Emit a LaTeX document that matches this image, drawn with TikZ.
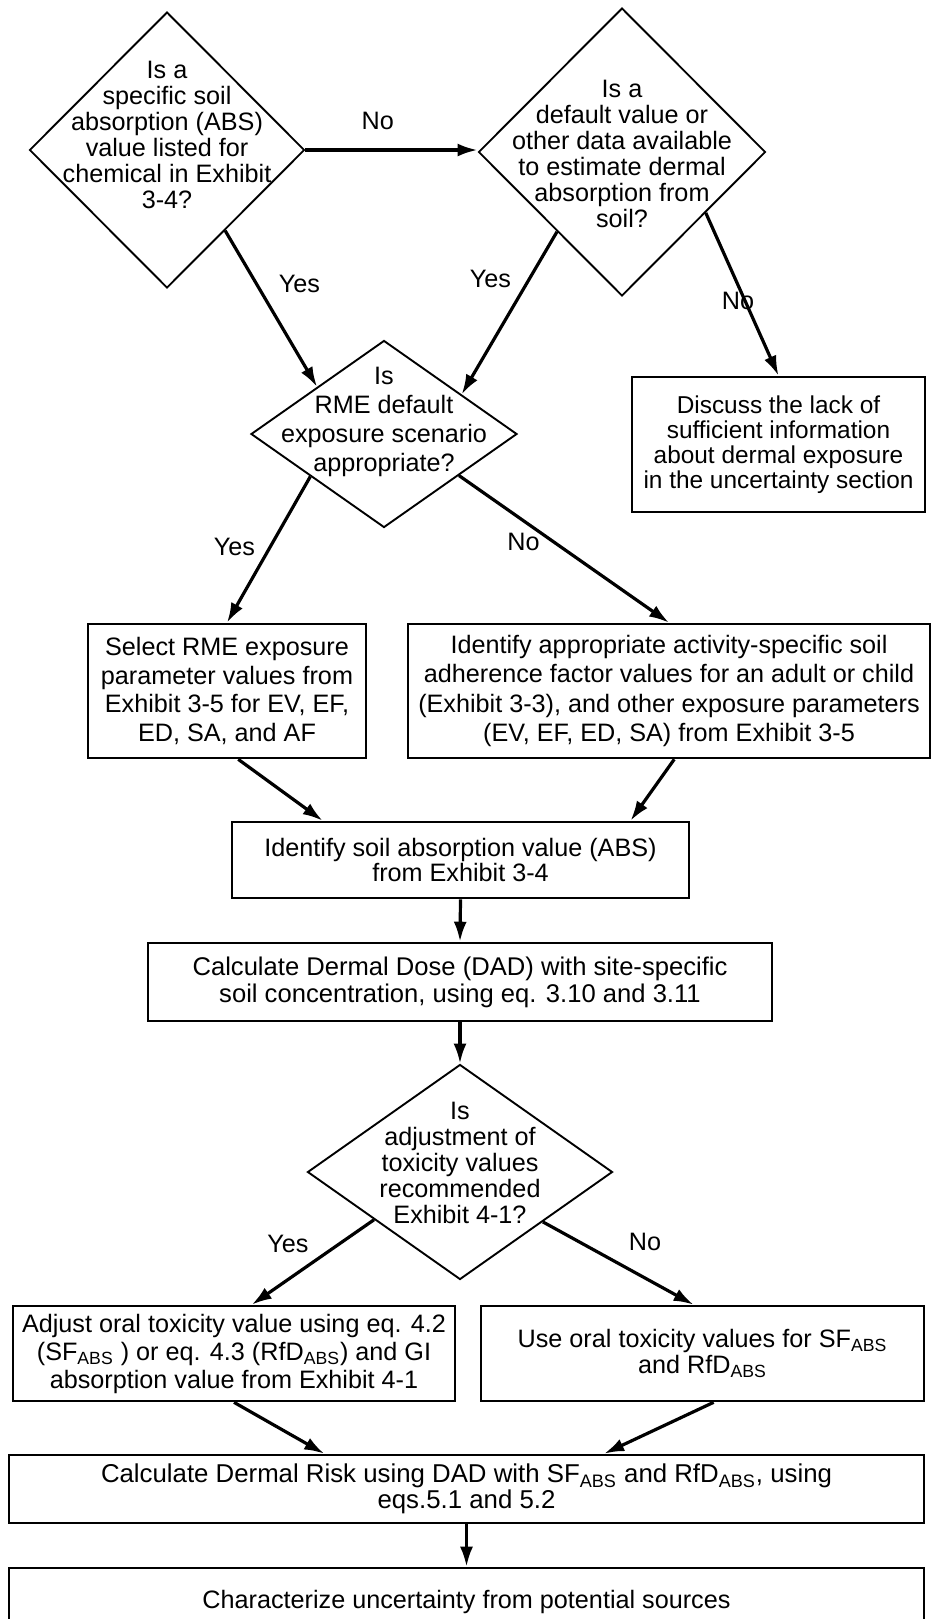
\documentclass[tikz,border=0pt]{standalone}
\usepackage{fontspec}
\setmainfont{Liberation Sans}
\usetikzlibrary{shapes,positioning,arrows.meta,calc}

% text of a decision: takes no room, so the diamond keeps its own size
\newcommand{\dtext}[2][0pt]{\makebox[0pt]{\smash{\raisebox{#1}{\begin{tabular}{@{}c@{}}#2\end{tabular}}}}}

\begin{document}
\begin{tikzpicture}[x=0.5pt,y=-0.5pt,
    every node/.style={font=\fontsize{12.6}{13}\selectfont},
    dec/.style 2 args={diamond, draw, line width=0.95pt, inner sep=0pt, minimum width=#1, minimum height=#2},
    proc/.style 2 args={rectangle, draw, line width=1.3pt, inner sep=0pt, align=center, minimum width=#1, minimum height=#2},
    arr/.style={-{Latex[length=10pt,width=6.5pt]}, line width=1.6pt},
    lab/.style={inner sep=0pt}]
    \useasboundingbox (0,0) rectangle (931,1619);

    % decisions
    \node[dec={137.5pt}{138pt}] (d1) at (167,150) {\dtext[3pt]{Is a\\specific soil\\absorption (ABS)\\value listed for\\chemical in Exhibit\\3-4?}};
    \node[dec={143.5pt}{144pt}] (d2) at (622,152) {\dtext[-5.5pt]{Is a\\default value or\\other data available\\to estimate dermal\\absorption from\\soil?}};
    \node[dec={133pt}{93.5pt}, font=\fontsize{12.6}{14.5}\selectfont] (d3) at (384,434) {\dtext[3pt]{Is\\RME default\\exposure scenario\\appropriate?}};
    \node[dec={152.5pt}{107.5pt}] (d4) at (460,1172) {\dtext{Is\\adjustment of\\toxicity values\\recommended\\Exhibit 4-1?}};

    % boxes
    \node[proc={146.5pt}{67.5pt}, font=\fontsize{12.2}{12.6}\selectfont] (disc) at (778.5,444.5) {Discuss the lack of\\sufficient information\\about dermal exposure\\in the uncertainty section};
    \node[proc={139pt}{67pt}, font=\fontsize{12.6}{14.4}\selectfont] (sel) at (227,691) {Select RME exposure\\parameter values from\\Exhibit 3-5 for EV, EF,\\ED, SA, and AF};
    \node[proc={261pt}{67pt}, font=\fontsize{12.6}{14.8}\selectfont] (ident) at (669,691) {Identify appropriate activity-specific soil\\adherence factor values for an adult or child\\(Exhibit 3-3), and other exposure parameters\\(EV, EF, ED, SA) from Exhibit 3-5};
    \node[proc={228.5pt}{38pt}, font=\fontsize{12.6}{12.5}\selectfont] (abs) at (460.5,860) {Identify soil absorption value (ABS)\\from Exhibit 3-4};
    \node[proc={312pt}{39pt}, font=\fontsize{12.8}{13.5}\selectfont] (dose) at (460,982) {Calculate Dermal Dose (DAD) with site-specific\\soil concentration, using eq. 3.10 and 3.11};
    \node[proc={221pt}{47.5pt}, font=\fontsize{12.6}{14}\selectfont] (adj) at (234,1353.5) {Adjust oral toxicity value using eq. 4.2\\(SF\textsubscript{ABS} ) or eq. 4.3 (RfD\textsubscript{ABS}) and GI\\absorption value from Exhibit 4-1};
    \node[proc={221.5pt}{47.5pt}] (use) at (702.5,1353.5) {Use oral toxicity values for SF\textsubscript{ABS}\\and RfD\textsubscript{ABS}};
    \node[proc={457.5pt}{34pt}, font=\fontsize{12.9}{13}\selectfont] (risk) at (466.5,1489) {Calculate Dermal Risk using DAD with SF\textsubscript{ABS} and RfD\textsubscript{ABS}, using\\eqs.5.1 and 5.2};
    \node[proc={457.5pt}{34pt}] (char) at (466.5,1602) {Characterize uncertainty from potential sources};

    % arrows
    \draw[arr] (d1.east) -- (d1.east -| d2.west) node[lab, pos=0.42, yshift=14.5pt] (n1) {No};
    \draw[arr] ($(d1.east)!0.58!(d1.south)$) -- ($(d3.north)!0.5!(d3.west)$) node[lab, pos=0.34, xshift=21.5pt] (y1) {Yes};
    \draw[arr] ($(d2.west)!0.55!(d2.south)$) -- ($(d3.north)!0.58!(d3.east)$) node[lab, pos=0.29, xshift=-19.5pt] (y2) {Yes};
    \draw[arr] ($(d2.east)!0.42!(d2.south)$) -- (disc.north) node[lab, pos=0.54, xshift=-3.5pt] (n2) {No};
    \draw[arr] ($(d3.west)!0.45!(d3.south)$) -- (sel.north) node[lab, pos=0.48, xshift=-18pt] (y3) {Yes};
    \draw[arr] ($(d3.east)!0.44!(d3.south)$) -- (ident.north) node[lab, pos=0.45, xshift=-15pt] (n3) {No};
    \draw[arr] ($(sel.south west)!0.54!(sel.south east)$) -- ($(abs.north west)!0.2!(abs.north east)$);
    \draw[arr] ($(ident.south west)!0.51!(ident.south east)$) -- ($(abs.north west)!0.87!(abs.north east)$);
    \foreach \a/\b in {abs/dose,dose/d4,risk/char}{\draw[arr] (\a.south) -- (\b.north);}
    \draw[arr] ($(d4.west)!0.44!(d4.south)$) -- ($(adj.north west)!0.54!(adj.north east)$) node[lab, pos=0.28, xshift=-26pt] (y4) {Yes};
    \draw[arr] ($(d4.east)!0.46!(d4.south)$) -- ($(use.north west)!0.48!(use.north east)$) node[lab, pos=0.24, xshift=33pt] (n4) {No};
    \draw[arr] (adj.south) -- ($(risk.north west)!0.345!(risk.north east)$);
    \draw[arr] ($(use.south west)!0.525!(use.south east)$) -- ($(risk.north west)!0.65!(risk.north east)$);
\end{tikzpicture}
\end{document}
